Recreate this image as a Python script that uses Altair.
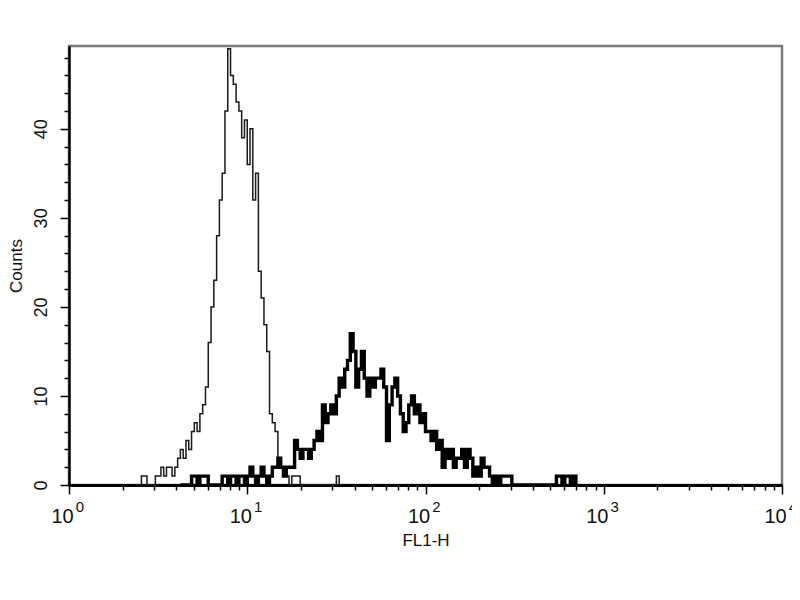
import altair as alt
import pandas as pd

# ---- data ----
channels_per_decade = 64

ctrl_start = 24
ctrl_counts = [0, 0, 1, 1, 0, 0, 0, 1, 1, 2, 1, 2, 2, 1, 2, 3, 4, 3, 5, 4,
               6, 7, 6, 8, 9, 11, 16, 20, 23, 28, 32, 35, 42, 49, 46, 45, 43, 42, 39, 41,
               36, 40, 32, 35, 24, 21, 18, 15, 8, 7, 6, 3, 2, 1, 1, 0, 1, 1, 1, 0,
               0, 0, 0, 0, 0, 0, 0, 0, 0, 0, 0, 0, 1, 0]

stain_start = 40
stain_counts = [0, 0, 0, 0, 1, 1, 0, 1, 1, 1, 0, 0, 0, 0, 0, 1, 1, 0, 1, 1,
                0, 1, 1, 0, 1, 2, 1, 0, 1, 2, 1, 0, 1, 2, 2, 3, 2, 1, 2, 2,
                2, 5, 4, 3, 4, 4, 3, 4, 5, 6, 5, 9, 7, 8, 9, 8, 10, 12, 11, 13,
                14, 17, 15, 11, 13, 15, 12, 10, 12, 11, 12, 12, 13, 11, 5, 9, 11, 12, 10, 8,
                6, 7, 9, 10, 8, 9, 7, 8, 6, 6, 5, 6, 4, 5, 2, 4, 3, 4, 2, 3,
                3, 4, 2, 4, 3, 1, 2, 1, 3, 2, 2, 1, 0, 1, 0, 1, 1, 1, 1, 0,
                0, 0, 0, 0, 0, 0, 0, 0, 0, 0, 0, 0, 0, 0, 0, 1, 1, 0, 1, 1,
                0, 1, 0]

x_major = [1, 10, 100, 1000, 10000]
x_exponents = ["0", "1", "2", "3", "4"]
x_ticks = [m * 10 ** d for d in range(4) for m in range(1, 10)] + [10000]
y_ticks = list(range(0, 49, 2))
y_max = 49.3


def hist_frame(start, counts, name):
    return pd.DataFrame({
        "fl1": [10 ** ((start + i) / channels_per_decade) for i in range(len(counts))],
        "count": counts,
        "sample": name,
    })


ctrl_df = hist_frame(ctrl_start, ctrl_counts, "control")
stain_df = hist_frame(stain_start, stain_counts, "stained")
exp_df = pd.DataFrame({"fl1": x_major, "exp": x_exponents})

W, H = 713, 439
FONT = "Liberation Sans"

xscale = alt.Scale(type="log", domain=[1, 10000], nice=False)
yscale = alt.Scale(domain=[0, y_max], nice=False, zero=True)

is_major_x = "indexof([1,10,100,1000,10000], datum.value) >= 0"
is_major_y = "datum.value % 10 == 0"

x_axis = alt.Axis(
    values=x_ticks,
    labelExpr=f"{is_major_x} ? '10' : ''",
    labelOffset=-7,
    labelPadding=12,
    labelFontSize=20,
    labelFont=FONT,
    labelColor="#111111",
    labelOverlap=False,
    labelFlush=False,
    tickSize={"condition": {"test": is_major_x, "value": 9}, "value": 5},
    tickColor="black",
    tickWidth=1.5,
    domainColor="black",
    domainWidth=3,
    grid=False,
    titleFont=FONT,
    titleFontSize=17,
    titleFontWeight="normal",
    titleColor="#111111",
    titlePadding=6,
)

y_axis = alt.Axis(
    values=y_ticks,
    labelExpr=f"{is_major_y} ? datum.label : ''",
    labelAngle=270,
    labelPadding=10,
    labelFontSize=18,
    labelFont=FONT,
    labelColor="#111111",
    labelOverlap=False,
    labelFlush=False,
    tickSize={"condition": {"test": is_major_y, "value": 9}, "value": 5},
    tickColor="black",
    tickWidth=1.5,
    domainColor="black",
    domainWidth=2.5,
    grid=False,
    titleFont=FONT,
    titleFontSize=17,
    titleFontWeight="normal",
    titleColor="#111111",
    titlePadding=7,
)

x_enc = alt.X("fl1:Q", scale=xscale, axis=x_axis, title="FL1-H")
y_enc = alt.Y("count:Q", scale=yscale, axis=y_axis, title="Counts")

thin = alt.Chart(ctrl_df).mark_line(
    interpolate="step-after", color="#1a1a1a", strokeWidth=1.5
).encode(x=x_enc, y=y_enc)

thick = alt.Chart(stain_df).mark_line(
    interpolate="step-after", color="black", strokeWidth=3.4
).encode(x=x_enc, y=y_enc)

exps = alt.Chart(exp_df).mark_text(
    align="center", baseline="alphabetic", fontSize=15, dx=11, font=FONT, color="#111111"
).encode(
    x=x_enc,
    y=alt.value(H + 27),
    text="exp:N",
)

chart = alt.layer(thin, thick, exps).properties(
    width=W,
    height=H,
    autosize=alt.AutoSizeParams(type="none"),
    padding={"left": 61, "top": 38, "right": 10, "bottom": 90},
    background="white",
).configure_view(
    stroke="#7a7a7a",
    strokeWidth=2.5,
)

chart.save("out.html", embed_options={"renderer": "svg", "actions": False})
